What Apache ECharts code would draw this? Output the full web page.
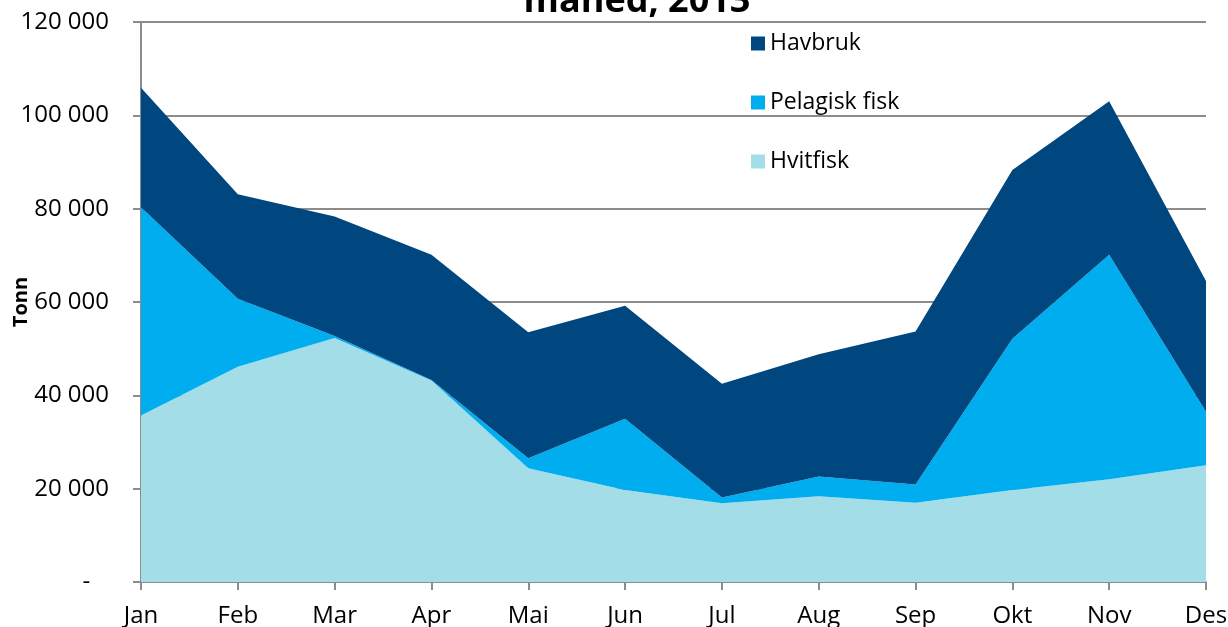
<!DOCTYPE html>
<html>
<head>
<meta charset="utf-8">
<script src="https://cdn.jsdelivr.net/npm/echarts@6/dist/echarts.min.js"></script>
<style>
  html, body { margin: 0; padding: 0; background: #fff; }
  #main { width: 1228px; height: 627px; }
</style>
</head>
<body>
<div id="main"></div>
<script>
  // måneder
  var months = ['Jan', 'Feb', 'Mar', 'Apr', 'Mai', 'Jun', 'Jul', 'Aug', 'Sep', 'Okt', 'Nov', 'Des'];
  // tonn per måned, lest av bildet
  var hvitfisk = [35700, 46100, 52300, 43200, 24400, 19700, 16900, 18400, 17000, 19700, 22000, 25000];
  var pelagisk = [44600, 14600, 400, 100, 2100, 15300, 1200, 4200, 3900, 32400, 48100, 11500];
  var havbruk = [25600, 22400, 25600, 26800, 27000, 24200, 24400, 26200, 32800, 36200, 32900, 28000];

  var font = '"Open Sans", "DejaVu Sans", sans-serif';
  var gridColor = '#8c8c8c';

  function fmt(v) {
    if (v === 0) return '-   ';
    return String(v).replace(/\B(?=(\d{3})+(?!\d))/g, ' ');
  }

  var chart = echarts.init(document.getElementById('main'));
  chart.setOption({
    animation: false,
    color: ['#a2dde8', '#00aeef', '#00467f'],
    graphic: [{
      type: 'text',
      style: {
        text: 'måned, 2013',
        x: 637,
        y: 20,
        align: 'center',
        verticalAlign: 'bottom',
        font: 'bold 36px ' + font,
        fill: '#000'
      }
    }],
    legend: {
      orient: 'vertical',
      left: 746,
      top: 27,
      itemGap: 36,
      itemWidth: 14,
      itemHeight: 14,
      icon: 'rect',
      data: ['Havbruk', 'Pelagisk fisk', 'Hvitfisk'],
      textStyle: { fontFamily: font, fontSize: 23, color: '#000' }
    },
    grid: { left: 141, right: 22, top: 22, bottom: 45, outerBoundsMode: 'none' },
    xAxis: {
      type: 'category',
      boundaryGap: false,
      data: months,
      axisLine: { lineStyle: { color: gridColor, width: 2 } },
      axisTick: { show: true, length: 8, lineStyle: { color: gridColor, width: 2 } },
      axisLabel: { margin: 22, fontFamily: font, fontSize: 24, color: '#000' },
      splitLine: { show: false }
    },
    yAxis: {
      type: 'value',
      min: 0,
      max: 120000,
      interval: 20000,
      name: 'Tonn',
      nameLocation: 'middle',
      nameGap: 110,
      nameMoveOverlap: false,
      nameTextStyle: { fontFamily: font, fontSize: 20, fontWeight: 'bold', color: '#000' },
      axisLine: { show: true, lineStyle: { color: gridColor, width: 2 } },
      axisTick: { show: true, length: 8, lineStyle: { color: gridColor, width: 2 } },
      axisLabel: { margin: 32, fontFamily: font, fontSize: 24, color: '#000', formatter: fmt },
      splitLine: { lineStyle: { color: gridColor, width: 2 } }
    },
    series: [
      {
        name: 'Hvitfisk',
        type: 'line',
        stack: 'total',
        symbol: 'none',
        lineStyle: { width: 0 },
        areaStyle: { opacity: 1 },
        data: hvitfisk
      },
      {
        name: 'Pelagisk fisk',
        type: 'line',
        stack: 'total',
        symbol: 'none',
        lineStyle: { width: 0 },
        areaStyle: { opacity: 1 },
        data: pelagisk
      },
      {
        name: 'Havbruk',
        type: 'line',
        stack: 'total',
        symbol: 'none',
        lineStyle: { width: 0 },
        areaStyle: { opacity: 1 },
        data: havbruk
      }
    ]
  });
</script>
</body>
</html>
